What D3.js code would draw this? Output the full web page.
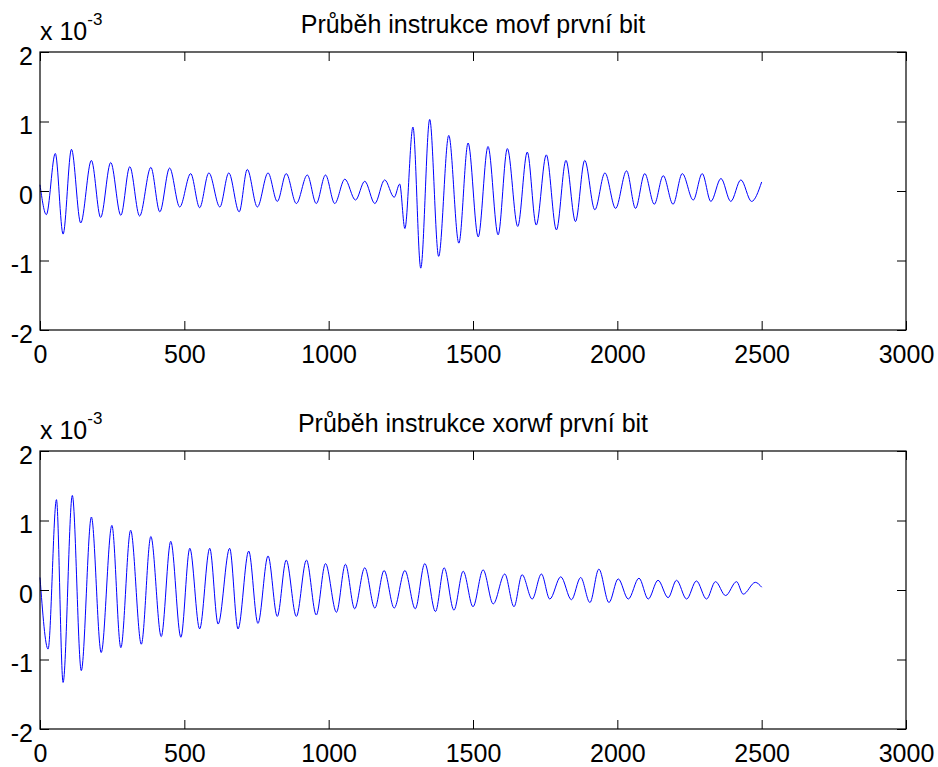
<!DOCTYPE html>
<html lang="cs">
<head>
<meta charset="UTF-8">
<title>Průběh instrukce</title>
<script src="https://cdn.jsdelivr.net/npm/d3@7"></script>
<style>
    body { margin: 0; background: #fff; }
    text { font-family: "Liberation Sans", Arial, sans-serif; fill: #000; }
</style>
</head>
<body>
<script>
    // hodnoty (x = vzorek, y = napětí * 1e-3)
    var xTicks = [0, 500, 1000, 1500, 2000, 2500, 3000];
    var yTicks = [-2, -1, 0, 1, 2];
    var titles = ["Průběh instrukce movf první bit", "Průběh instrukce xorwf první bit"];

    var movfX = [0, 22, 53, 80, 109, 141, 178, 210, 245, 280, 311, 345, 384, 415, 449, 484, 522, 553, 585, 623,
        654, 690, 718, 753, 790, 822, 853, 888, 926, 957, 989, 1021, 1056, 1093, 1125, 1160, 1194, 1227, 1246, 1264,
        1292, 1319, 1350, 1381, 1416, 1451, 1483, 1518, 1552, 1587, 1619, 1655, 1688, 1719, 1754, 1789, 1822, 1855,
        1887, 1922, 1957, 1994, 2032, 2063, 2095, 2128, 2159, 2193, 2225, 2263, 2294, 2324, 2359, 2393, 2428, 2465, 2500];
    var movfY = [0.09, -0.34, 0.54, -0.62, 0.60, -0.46, 0.44, -0.38, 0.41, -0.35, 0.35, -0.36, 0.34, -0.30, 0.33, -0.23,
        0.25, -0.24, 0.26, -0.23, 0.26, -0.30, 0.31, -0.23, 0.26, -0.15, 0.25, -0.18, 0.23, -0.18, 0.23, -0.18,
        0.17, -0.13, 0.14, -0.18, 0.16, -0.09, 0.10, -0.54, 0.92, -1.11, 1.03, -0.94, 0.80, -0.75, 0.69, -0.66,
        0.64, -0.63, 0.61, -0.51, 0.56, -0.49, 0.52, -0.56, 0.44, -0.44, 0.44, -0.27, 0.26, -0.25, 0.29, -0.25,
        0.25, -0.19, 0.22, -0.19, 0.25, -0.13, 0.25, -0.15, 0.18, -0.15, 0.16, -0.15, 0.13];

    var xorwfX = [0, 28, 57, 80, 112, 143, 178, 212, 249, 280, 314, 351, 384, 420, 453, 488, 519, 553, 588, 617,
        657, 686, 723, 755, 790, 822, 853, 888, 923, 957, 989, 1027, 1058, 1090, 1125, 1160, 1192, 1227, 1264, 1300,
        1333, 1370, 1400, 1434, 1466, 1500, 1535, 1570, 1610, 1642, 1670, 1705, 1737, 1766, 1804, 1841, 1873, 1905,
        1936, 1971, 2003, 2038, 2075, 2107, 2141, 2176, 2205, 2240, 2274, 2309, 2340, 2375, 2413, 2436, 2478, 2500];
    var xorwfY = [0.18, -0.85, 1.30, -1.33, 1.36, -1.16, 1.05, -0.90, 0.93, -0.83, 0.86, -0.78, 0.77, -0.67, 0.70, -0.68,
        0.60, -0.56, 0.60, -0.49, 0.60, -0.56, 0.56, -0.48, 0.49, -0.38, 0.43, -0.38, 0.43, -0.36, 0.38, -0.32,
        0.37, -0.27, 0.32, -0.26, 0.28, -0.26, 0.28, -0.27, 0.38, -0.31, 0.32, -0.29, 0.27, -0.24, 0.29, -0.20,
        0.23, -0.24, 0.22, -0.13, 0.23, -0.13, 0.19, -0.14, 0.18, -0.18, 0.30, -0.18, 0.16, -0.13, 0.17, -0.13,
        0.14, -0.11, 0.14, -0.13, 0.13, -0.13, 0.12, -0.08, 0.12, -0.06, 0.11, 0.04];

    var svg = d3.select("body").append("svg").attr("width", 938).attr("height", 767);

    var left = 40, right = 906, plotH = 278;
    var x = d3.scaleLinear().domain([0, 3000]).range([left, right]);
    var plain = function (d) { return String(d); };   // "-1" s obyčejným spojovníkem, bez oddělovače tisíců

    function panel(top, title, xs, ys) {
        var y = d3.scaleLinear().domain([-2, 2]).range([top + plotH, top]);
        var g = svg.append("g");

        g.append("path")
            .datum(d3.range(xs.length))
            .attr("fill", "none").attr("stroke", "#0000ff").attr("stroke-width", 1)
            .attr("d", d3.line().curve(d3.curveMonotoneX)
                .x(function (i) { return x(xs[i]); })
                .y(function (i) { return y(ys[i]); }));

        var ax = g.append("g").attr("transform", "translate(0," + (top + plotH) + ")")
            .call(d3.axisBottom(x).tickValues(xTicks).tickFormat(plain).tickSizeInner(-9).tickSizeOuter(0).tickPadding(15));
        g.append("g").attr("transform", "translate(0," + top + ")")
            .call(d3.axisTop(x).tickValues(xTicks).tickSizeInner(-9).tickSizeOuter(0).tickFormat(""));
        var ay = g.append("g").attr("transform", "translate(" + left + ",0)")
            .call(d3.axisLeft(y).tickValues(yTicks).tickFormat(plain).tickSizeInner(-9).tickSizeOuter(0).tickPadding(7));
        g.append("g").attr("transform", "translate(" + right + ",0)")
            .call(d3.axisRight(y).tickValues(yTicks).tickSizeInner(-9).tickSizeOuter(0).tickFormat(""));

        g.selectAll(".domain").remove();
        g.selectAll(".tick line").attr("stroke", "#000");
        ax.selectAll("text").attr("font-size", 25).attr("font-family", null);
        ay.selectAll("text").attr("font-size", 25).attr("font-family", null).attr("dy", "0.48em");

        g.append("rect").attr("x", left).attr("y", top).attr("width", right - left).attr("height", plotH)
            .attr("fill", "none").attr("stroke", "#000").attr("stroke-width", 1.2);

        g.append("text").attr("x", (left + right) / 2).attr("y", top - 19)
            .attr("text-anchor", "middle").attr("font-size", 25).text(title);

        var exp = g.append("text").attr("x", left).attr("y", top - 12).attr("font-size", 25);
        exp.append("tspan").text("x 10");
        exp.append("tspan").attr("dy", -15).attr("font-size", 17).text("-3");
    }

    panel(52, titles[0], movfX, movfY);
    panel(451, titles[1], xorwfX, xorwfY);
</script>
</body>
</html>
